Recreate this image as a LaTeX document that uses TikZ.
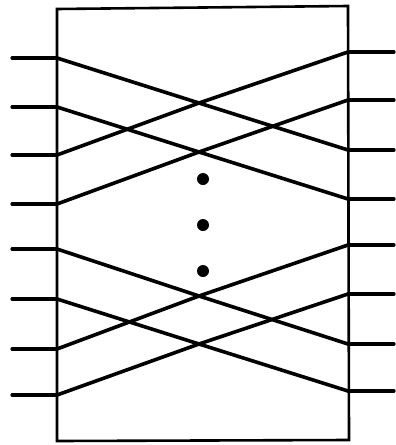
\documentclass[tikz,border=0pt]{standalone}
\begin{document}
\begin{tikzpicture}[x=1pt,y=-1pt,
  boxline/.style={line width=2.6pt},
  wire/.style={line width=3.6pt,line cap=round,line join=round},
  stub/.style={line width=3.2pt,line cap=round},
  dotmark/.style={circle,fill=black,inner sep=0pt,minimum size=12pt}]
\useasboundingbox (0,0) rectangle (396,445);
% box
\coordinate (tl) at (57,9);
\coordinate (tr) at (348,6);
\coordinate (br) at (349,440);
\coordinate (bl) at (57,441);
\draw[boxline] (tl) -- (tr) -- (br) -- (bl) -- cycle;
% left ports
\foreach \i/\y in {1/58,2/107,3/155,4/204,5/249,6/299,7/349,8/395}{
  \coordinate (L\i) at (57,\y);
  \coordinate (LS\i) at (12,\y);
  \draw[stub] (LS\i) -- (L\i);
}
% right ports
\foreach \i/\y in {1/52,2/100,3/150,4/199,5/245,6/294,7/344,8/391}{
  \coordinate (R\i) at (348,\y);
  \coordinate (RS\i) at (394,\y);
  \draw[stub] (R\i) -- (RS\i);
}
% junctions
\coordinate (J1) at (199,103);
\coordinate (J2) at (199,152);
\coordinate (J3) at (199,296);
\coordinate (J4) at (199,344);
\draw[wire] (L1) -- (J1) -- (L3);
\draw[wire] (R1) -- (J1) -- (R3);
\draw[wire] (L2) -- (J2) -- (L4);
\draw[wire] (R2) -- (J2) -- (R4);
\draw[wire] (L5) -- (J3) -- (L7);
\draw[wire] (R5) -- (J3) -- (R7);
\draw[wire] (L6) -- (J4) -- (L8);
\draw[wire] (R6) -- (J4) -- (R8);
% dots
\node[dotmark] (d1) at (203,179) {};
\node[dotmark] (d2) at (203,225) {};
\node[dotmark] (d3) at (203,271) {};
\end{tikzpicture}
\end{document}
